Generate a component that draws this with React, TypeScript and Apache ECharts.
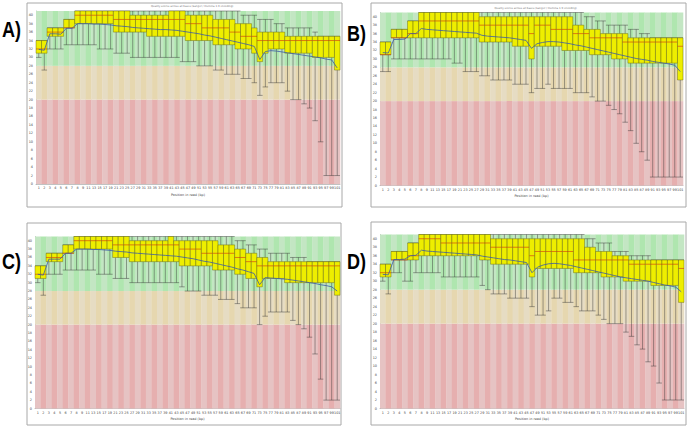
import React, { useEffect, useRef } from "react";
import * as echarts from "echarts";

const positions = ["1","2","3","4","5","6","7","8","9","11","13","15","17","19","21","23","25","27","29","31","33","35","37","39","41","43","45","47","49","51","53","55","57","59","61","63","65","67","69","71","73","75","77","79","81","83","85","87","89","91","93","95","97","99","101"];
const yTicks = [0, 41];
const bandLimits = [0, 20, 28, 41];
const panelLabels = ["A)", "B)", "C)", "D)"];
const chartTitle = "Quality scores across all bases (Sanger / Illumina 1.9 encoding)";
const xName = "Position in read (bp)";

// Panel A
const aLow = [30,27,32,32,32,33,33,33,33,33,33,32,32,32,31,31,31,30,30,30,30,30,30,30,30,30,29,29,29,28,28,28,27,27,26,26,26,25,25,24,21,23,24,24,24,22,20,20,19,18,15,10,2,2,2];
const aQ1 = [31,31,35,35,35,37,37,38,38,38,38,38,38,38,36,36,36,36,36,36,35,35,35,35,35,35,35,34,34,34,34,34,33,33,33,33,32,32,32,31,29,31,32,32,32,31,31,31,31,31,30,30,30,30,27];
const aMed = [32,32,36,36,36,37,37,40,40,40,40,40,40,40,39,39,39,39,39,39,39,39,39,39,39,39,39,38,38,38,37,37,37,37,37,36,36,35,35,35,34,34,34,34,34,34,34,34,34,34,34,34,34,34,34];
const aQ3 = [34,34,37,37,37,39,39,41,41,41,41,41,41,41,41,41,41,40,40,40,40,40,40,40,41,41,41,40,40,40,40,40,39,39,39,39,38,38,38,37,36,36,36,36,36,35,35,35,35,35,35,35,35,35,35];
const aHigh = [34,34,37,37,37,39,39,41,41,41,41,41,41,41,41,41,41,41,41,41,41,41,41,41,41,41,41,41,41,41,41,41,41,41,41,41,41,40,40,40,39,39,39,38,38,37,37,37,37,37,36,35,35,35,35];
const aMean = [31.9,31.7,35.6,35.6,35.5,36.9,36.9,38.0,38.0,38.0,37.9,37.9,37.8,37.7,37.5,37.4,37.3,37.1,37.0,36.9,36.8,36.7,36.6,36.6,36.5,36.4,36.2,36.0,35.8,35.6,35.3,35.1,34.8,34.5,34.2,33.9,33.6,33.3,33.0,32.6,29.5,31.4,31.6,31.5,31.3,31.1,30.9,30.7,30.5,30.3,30.1,29.9,29.6,29.4,27.5];

// Panel B
const bLow = [27,27,30,30,30,30,30,30,30,30,30,30,30,29,29,27,27,27,26,26,25,25,25,25,24,24,24,22,23,23,24,23,23,23,23,22,22,22,21,20,20,19,18,17,15,13,10,8,6,2,2,2,2,2,2];
const bQ1 = [31,31,35,35,35,35,35,35,35,35,35,35,35,35,35,35,35,35,34,34,34,34,34,34,33,33,33,30,33,33,33,33,33,32,32,32,32,32,31,31,31,31,30,30,30,29,29,29,29,29,29,29,29,29,25];
const bMed = [31,31,35,35,35,36,36,39,39,39,39,39,39,39,39,39,39,39,38,38,38,38,38,38,38,38,38,36,38,38,38,37,37,37,37,36,36,36,35,35,35,35,35,35,34,34,34,34,34,34,34,34,34,34,33];
const bQ3 = [34,34,37,37,37,39,39,41,41,41,41,41,41,41,41,41,41,41,40,40,40,40,40,40,40,40,40,40,40,40,40,40,40,40,40,38,38,37,37,37,36,36,36,36,36,35,35,35,35,35,35,35,35,35,35];
const bHigh = [34,34,37,37,37,39,39,41,41,41,41,41,41,41,41,41,41,41,41,41,41,41,41,41,41,41,41,41,41,41,41,41,41,41,41,41,41,40,40,39,39,38,38,38,38,37,37,36,36,35,35,35,35,35,35];
const bMean = [31.5,31.4,34.6,34.6,34.7,36.0,36.0,37.2,37.0,36.9,36.8,36.7,36.6,36.5,36.4,36.3,36.2,36.1,35.6,35.4,35.3,35.2,35.1,35.0,34.8,34.6,34.4,32.5,33.6,33.9,34.1,34.1,34.0,33.8,33.6,33.3,33.1,32.8,32.5,32.2,31.9,31.6,31.3,31.0,30.7,30.4,30.1,29.9,29.7,29.4,29.2,29.0,28.8,28.5,27.0];

// Panel C
const cLow = [30,27,32,32,32,33,33,33,33,33,33,32,32,32,31,31,31,30,30,30,30,30,30,30,30,30,29,28,28,28,27,27,27,26,26,26,25,24,24,24,20,22,23,23,23,23,21,20,19,17,13,7,2,2,2];
const cQ1 = [31,31,35,35,35,37,37,38,38,38,38,38,38,38,36,36,36,35,35,35,35,35,35,35,35,35,34,34,34,34,34,34,33,33,33,33,32,32,31,31,29,31,31,31,31,30,30,30,30,30,30,30,30,30,27];
const cMed = [32,32,36,36,36,37,37,40,40,40,40,40,40,40,39,39,39,39,39,39,39,39,39,39,39,39,38,38,38,38,37,37,37,37,37,37,36,36,35,35,34,34,34,34,34,34,34,34,34,34,34,34,34,34,34];
const cQ3 = [34,34,37,37,37,39,39,41,41,41,41,41,41,41,41,41,41,40,40,40,40,40,40,40,41,40,40,40,40,40,40,40,40,39,39,39,38,38,37,37,36,36,35,35,35,35,35,35,35,35,35,35,35,35,35];
const cHigh = [34,34,37,37,37,39,39,41,41,41,41,41,41,41,41,41,41,41,41,41,41,41,41,41,41,41,41,41,41,41,41,41,41,41,41,41,40,40,39,39,38,38,37,37,37,37,36,36,36,35,35,35,35,35,35];
const cMean = [32.0,31.8,35.6,35.6,35.6,37.0,37.0,38.0,38.0,38.0,37.9,37.9,37.8,37.7,37.5,37.4,37.3,37.1,37.0,36.9,36.8,36.7,36.6,36.5,36.4,36.3,36.1,35.9,35.7,35.4,35.1,34.9,34.6,34.3,34.0,33.7,33.3,33.0,32.6,32.2,29.5,31.2,31.1,31.0,30.9,30.8,30.6,30.4,30.2,30.0,29.8,29.5,29.3,29.0,28.0];

// Panel D
const dLow = [30,27,32,32,30,30,32,32,32,32,32,31,31,31,31,31,31,31,29,28,27,27,27,26,26,26,26,24,22,22,23,26,26,25,25,24,23,23,23,22,21,20,20,20,18,17,15,14,11,10,6,2,2,2,2];
const dQ1 = [31,31,35,35,35,35,35,36,36,36,36,36,36,36,36,36,36,36,35,35,34,34,34,34,34,34,34,31,33,33,33,33,33,33,33,32,32,32,32,32,31,31,31,31,30,30,30,30,30,29,29,29,29,29,25];
const dMed = [32,32,35,35,35,36,36,40,40,40,40,39,39,39,39,39,39,39,39,39,38,38,38,38,38,38,38,36,37,37,37,37,37,37,37,35,35,35,35,35,35,35,35,35,35,34,34,34,34,34,34,34,34,34,33];
const dQ3 = [34,34,37,37,37,39,39,41,41,41,41,41,41,41,41,41,41,41,41,41,40,40,40,40,40,40,40,40,40,40,40,40,40,40,40,40,40,38,38,37,37,37,36,36,36,35,35,35,35,35,35,35,35,35,35];
const dHigh = [34,34,37,37,37,39,39,41,41,41,41,41,41,41,41,41,41,41,41,41,41,41,41,41,41,41,41,41,41,41,41,41,41,41,41,41,41,40,40,39,39,39,37,37,37,36,36,36,36,35,35,35,35,35,35];
const dMean = [31.6,31.5,35.1,35.1,35.2,36.0,36.1,37.3,37.1,37.0,36.9,36.8,36.7,36.6,36.5,36.4,36.3,36.2,35.9,35.7,35.5,35.3,35.1,35.0,34.8,34.6,34.4,32.0,33.3,33.8,34.1,34.2,34.1,33.9,33.7,33.4,33.1,32.8,32.5,32.2,31.9,31.6,31.3,31.0,30.8,30.6,30.4,30.2,30.0,29.7,29.4,29.1,28.9,28.6,27.5];

const panels = [
  { low: aLow, q1: aQ1, med: aMed, q3: aQ3, high: aHigh, mean: aMean },
  { low: bLow, q1: bQ1, med: bMed, q3: bQ3, high: bHigh, mean: bMean },
  { low: cLow, q1: cQ1, med: cMed, q3: cQ3, high: cHigh, mean: cMean },
  { low: dLow, q1: dQ1, med: dMed, q3: dQ3, high: dHigh, mean: dMean },
];

// layout (pixels)
const grids = [
  { left: 36, top: 11, width: 304, height: 173 },
  { left: 380, top: 12.5, width: 303, height: 173 },
  { left: 35, top: 236.5, width: 305, height: 172 },
  { left: 380, top: 234.5, width: 304, height: 174 },
];
const frames = [
  { x: 27, y: 3, w: 315, h: 204 },
  { x: 371, y: 3, w: 315, h: 204 },
  { x: 27, y: 223, w: 314, h: 202 },
  { x: 371, y: 222, w: 315, h: 203 },
];
const labelPos = [
  { x: 2, y: 18 },
  { x: 347, y: 22 },
  { x: 2, y: 250 },
  { x: 347, y: 250 },
];

const bandColors = [
  ["#e6c3c3", "#e6afaf"],
  ["#e6dcc3", "#e6d7af"],
  ["#c3e6c3", "#afe6af"],
];

export default function App() {
  const ref = useRef<HTMLDivElement>(null);
  useEffect(() => {
    document.body.style.margin = "0";
    if (!ref.current) return;
    const chart = echarts.init(ref.current, undefined, { renderer: "svg" });

    const xAxis: any[] = [];
    const yAxis: any[] = [];
    const series: any[] = [];

    panels.forEach((p, gi) => {
      xAxis.push({
        type: "category",
        gridIndex: gi,
        data: positions,
        boundaryGap: true,
        axisLine: { show: true, lineStyle: { color: "#999", width: 0.6 } },
        axisTick: { show: false },
        axisLabel: { interval: 0, fontSize: 3.4, color: "#444", margin: 2.5, fontFamily: "DejaVu Sans" },
        splitLine: { show: false },
        name: xName,
        nameLocation: "middle",
        nameGap: 9,
        nameTextStyle: { fontSize: 3.4, color: "#444", fontFamily: "DejaVu Sans" },
      });
      yAxis.push({
        type: "value",
        gridIndex: gi,
        min: yTicks[0],
        max: yTicks[1],
        interval: 2,
        axisLine: { show: true, lineStyle: { color: "#999", width: 0.6 } },
        axisTick: { show: false },
        axisLabel: { fontSize: 3.4, color: "#444", margin: 3, showMaxLabel: false, fontFamily: "DejaVu Sans" },
        splitLine: { show: false },
      });

      series.push({
        type: "custom",
        xAxisIndex: gi,
        yAxisIndex: gi,
        z: 1,
        silent: true,
        data: positions.map((_, i) => [i]),
        encode: { x: 0 },
        renderItem: (params: any, api: any) => {
          const k = api.value(0);
          const w = api.size([1, 0])[0];
          const alt = k % 2;
          const children: any[] = [];
          for (let b = 0; b < 3; b++) {
            const lo = api.coord([k, bandLimits[b]]);
            const hi = api.coord([k, bandLimits[b + 1]]);
            children.push({
              type: "rect",
              shape: { x: lo[0] - w / 2, y: hi[1], width: w + 0.3, height: lo[1] - hi[1] },
              style: { fill: bandColors[b][alt] },
            });
          }
          return { type: "group", children };
        },
      });

      series.push({
        type: "custom",
        xAxisIndex: gi,
        yAxisIndex: gi,
        z: 2,
        silent: true,
        data: positions.map((_, i) => [i, p.low[i], p.q1[i], p.med[i], p.q3[i], p.high[i]]),
        encode: { x: 0, y: [1, 5] },
        renderItem: (params: any, api: any) => {
          const k = api.value(0);
          const w = api.size([1, 0])[0];
          const pl = api.coord([k, api.value(1)]);
          const p1 = api.coord([k, api.value(2)]);
          const pm = api.coord([k, api.value(3)]);
          const p3 = api.coord([k, api.value(4)]);
          const ph = api.coord([k, api.value(5)]);
          const x0 = pl[0] - w / 2;
          const x1 = pl[0] + w / 2;
          const wl = { stroke: "#333", lineWidth: 0.45 };
          return {
            type: "group",
            children: [
              { type: "line", shape: { x1: pl[0], y1: pl[1], x2: pl[0], y2: p1[1] }, style: wl },
              { type: "line", shape: { x1: pl[0], y1: p3[1], x2: pl[0], y2: ph[1] }, style: wl },
              { type: "line", shape: { x1: x0, y1: pl[1], x2: x1, y2: pl[1] }, style: wl },
              { type: "line", shape: { x1: x0, y1: ph[1], x2: x1, y2: ph[1] }, style: wl },
              {
                type: "rect",
                shape: { x: x0, y: p3[1], width: w, height: p1[1] - p3[1] },
                style: { fill: "#eeee00", stroke: "#55550a", lineWidth: 0.4 },
              },
              { type: "line", shape: { x1: x0, y1: pm[1], x2: x1, y2: pm[1] }, style: { stroke: "#d03010", lineWidth: 0.6 } },
            ],
          };
        },
      });

      series.push({
        type: "line",
        xAxisIndex: gi,
        yAxisIndex: gi,
        z: 3,
        data: p.mean,
        symbol: "none",
        silent: true,
        lineStyle: { color: "#3a5aa8", width: 0.8 },
      });
    });

    const graphic: any[] = [];
    frames.forEach((f) => {
      graphic.push({
        type: "rect",
        z: -10,
        silent: true,
        shape: { x: f.x, y: f.y, width: f.w, height: f.h },
        style: { fill: "#ffffff", stroke: "#a8a8a8", lineWidth: 1 },
      });
    });
    panelLabels.forEach((t, i) => {
      graphic.push({
        type: "text",
        x: labelPos[i].x,
        y: labelPos[i].y,
        scaleX: 0.82,
        silent: true,
        style: {
          text: t,
          fontSize: 22,
          fontWeight: "bold",
          fontFamily: "Liberation Sans, Arial, sans-serif",
          fill: "#000",
        },
      });
    });
    [0, 1].forEach((i) => {
      const g = grids[i];
      graphic.push({
        type: "text",
        x: g.left + g.width / 2 - 37,
        y: i === 0 ? 5.5 : 7.5,
        silent: true,
        style: { text: chartTitle, fontSize: 2.6, fill: "#777", fontFamily: "DejaVu Sans" },
      });
    });

    chart.setOption({
      animation: false,
      backgroundColor: "#ffffff",
      grid: grids.map((g) => ({ ...g, containLabel: false })),
      xAxis,
      yAxis,
      series,
      graphic,
    });
    return () => chart.dispose();
  }, []);
  return <div ref={ref} style={{ width: 689, height: 430 }} />;
}
